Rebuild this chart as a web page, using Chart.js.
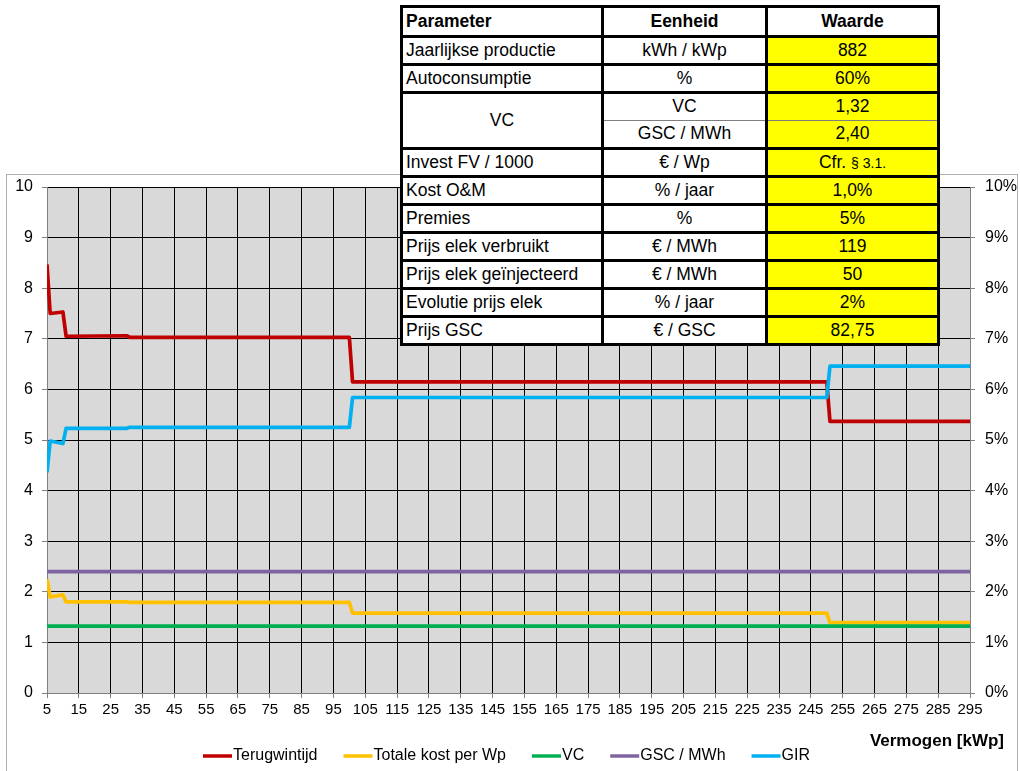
<!DOCTYPE html>
<html>
<head>
<meta charset="utf-8">
<title>Terugwintijd en GIR in functie van vermogen</title>
<script src="https://cdn.jsdelivr.net/npm/chart.js@4.4.1/dist/chart.umd.min.js"></script>
<style>
  html, body { margin: 0; padding: 0; background: #fff; }
  #wrap { position: relative; width: 1020px; height: 771px; overflow: hidden; }
  #wrap canvas { position: absolute; left: 0; top: 0; }
  #params {
    position: absolute; left: 400px; top: 5px; width: 537px;
    border-collapse: collapse; table-layout: fixed;
    font-family: 'Liberation Sans', Arial, sans-serif; font-size: 17.5px; color: #000;
    background: #fff;
  }
  #params td { border: 3px solid #000; padding: 0 3px; white-space: nowrap; line-height: 1; }
  #params tr { height: 28px; }
  #params tr.head { height: 30px; }
  #params tr.head td { font-weight: bold; }
  #params td.c { text-align: center; }
  #params td.v { text-align: center; background: #ffff00; }
  #params td.split-top { border-bottom: 1px solid #7f7f7f; }
  #params td.split-bot { border-top: 1px solid #7f7f7f; }
  #params span.small { font-size: 14px; }
</style>
</head>
<body>
<div id="wrap">
  <canvas id="chart" width="1020" height="771"></canvas>
  <table id="params"></table>
</div>
<script>
// Vermogen (kWp) at the points where the curves change
const kWp = [5, 6, 10, 11, 30, 31, 100, 101, 250, 251, 295];

// Left axis series
const terugwintijd = [8.47, 7.50, 7.53, 7.05, 7.06, 7.03, 7.03, 6.15, 6.15, 5.37, 5.37];
const totaleKostPerWp = [2.25, 1.90, 1.94, 1.80, 1.80, 1.79, 1.79, 1.58, 1.58, 1.39, 1.39];
const vc = [1.32, 1.32, 1.32, 1.32, 1.32, 1.32, 1.32, 1.32, 1.32, 1.32, 1.32];
const gscPerMWh = [2.40, 2.40, 2.40, 2.40, 2.40, 2.40, 2.40, 2.40, 2.40, 2.40, 2.40];

// Right axis series (GIR, in %)
const gir = [4.36, 4.98, 4.93, 5.23, 5.23, 5.25, 5.25, 5.84, 5.84, 6.46, 6.46];

// Tick labels
const xTicks = [5, 15, 25, 35, 45, 55, 65, 75, 85, 95, 105, 115, 125, 135, 145, 155, 165, 175, 185, 195, 205, 215, 225, 235, 245, 255, 265, 275, 285, 295];
const yTicks = [0, 1, 2, 3, 4, 5, 6, 7, 8, 9, 10];
const y2Ticks = [0, 1, 2, 3, 4, 5, 6, 7, 8, 9, 10];
const xTitle = 'Vermogen [kWp]';

// Parameter table
const tableHeader = ['Parameter', 'Eenheid', 'Waarde'];
const tableParams = ['Jaarlijkse productie', 'Autoconsumptie', 'VC', 'VC', 'Invest FV / 1000', 'Kost O&M', 'Premies', 'Prijs elek verbruikt', 'Prijs elek geïnjecteerd', 'Evolutie prijs elek', 'Prijs GSC'];
const tableUnits = ['kWh / kWp', '%', 'VC', 'GSC / MWh', '€ / Wp', '% / jaar', '%', '€ / MWh', '€ / MWh', '% / jaar', '€ / GSC'];
const tableValues = ['882', '60%', '1,32', '2,40', 'Cfr. § 3.1.', '1,0%', '5%', '119', '50', '2%', '82,75'];

// Build the parameter table
(function buildTable() {
  const t = document.getElementById('params');
  const esc = s => s.replace(/&/g, '&amp;').replace(/</g, '&lt;');
  let html = '<colgroup><col style="width:201px"><col style="width:164px"><col style="width:172px"></colgroup>';
  html += '<tr class="head"><td>' + tableHeader[0] + '</td><td class="c">' + tableHeader[1] + '</td><td class="c">' + tableHeader[2] + '</td></tr>';
  for (let i = 0; i < tableParams.length; i++) {
    const merged = i > 0 && tableParams[i] === tableParams[i - 1];
    const mergeNext = i + 1 < tableParams.length && tableParams[i + 1] === tableParams[i];
    let row = '<tr>';
    if (!merged) {
      row += mergeNext
        ? '<td class="c" rowspan="2">' + esc(tableParams[i]) + '</td>'
        : '<td>' + esc(tableParams[i]) + '</td>';
    }
    const split = mergeNext ? ' split-top' : (merged ? ' split-bot' : '');
    let val = esc(tableValues[i]);
    // the paragraph reference is set in a smaller size
    const sec = val.indexOf('§');
    if (sec >= 0) val = val.slice(0, sec) + '<span class="small">' + val.slice(sec) + '</span>';
    row += '<td class="c' + split + '">' + esc(tableUnits[i]) + '</td>';
    row += '<td class="v' + split + '">' + val + '</td>';
    row += '</tr>';
    html += row;
  }
  t.innerHTML = html;
})();

const FONT = "'Liberation Sans', Arial, sans-serif";
const toPoints = ys => kWp.map((x, i) => ({ x: x, y: ys[i] }));

// Page background, outer frame and grey plot area
const framePlugin = {
  id: 'frame',
  beforeDraw(chart) {
    const { ctx, chartArea: a } = chart;
    ctx.save();
    ctx.fillStyle = '#ffffff';
    ctx.fillRect(0, 0, chart.width, chart.height);
    ctx.strokeStyle = '#b0b0b0';
    ctx.lineWidth = 1;
    ctx.strokeRect(6.5, 174.5, 1011, 620);
    ctx.fillStyle = '#d9d9d9';
    ctx.fillRect(a.left, a.top, a.right - a.left, a.bottom - a.top);
    ctx.restore();
  }
};

// Legend row and axis title along the bottom
const bottomPlugin = {
  id: 'bottomLegend',
  afterDraw(chart) {
    const ctx = chart.ctx;
    ctx.save();
    ctx.font = '16px ' + FONT;
    ctx.textBaseline = 'middle';
    ctx.textAlign = 'left';
    let x = 203;
    const y = 756;
    chart.data.datasets.forEach(ds => {
      ctx.strokeStyle = ds.borderColor;
      ctx.lineWidth = 3.5;
      ctx.beginPath();
      ctx.moveTo(x, y);
      ctx.lineTo(x + 29, y);
      ctx.stroke();
      x += 30;
      ctx.fillStyle = '#000';
      ctx.fillText(ds.label, x, y);
      x += ctx.measureText(ds.label).width + 26;
    });
    ctx.font = 'bold 17px ' + FONT;
    ctx.textAlign = 'right';
    ctx.fillStyle = '#000';
    ctx.fillText(xTitle, 1004, 741);
    ctx.restore();
  }
};

const lineStyle = { pointRadius: 0, borderWidth: 3.7, tension: 0, borderJoinStyle: 'round', fill: false };

new Chart(document.getElementById('chart'), {
  type: 'line',
  data: {
    datasets: [
      Object.assign({ label: 'Terugwintijd', data: toPoints(terugwintijd), borderColor: '#c00000', yAxisID: 'y', order: 4 }, lineStyle),
      Object.assign({ label: 'Totale kost per Wp', data: toPoints(totaleKostPerWp), borderColor: '#ffc000', yAxisID: 'y', order: 3 }, lineStyle),
      Object.assign({ label: 'VC', data: toPoints(vc), borderColor: '#00b050', yAxisID: 'y', order: 2 }, lineStyle),
      Object.assign({ label: 'GSC / MWh', data: toPoints(gscPerMWh), borderColor: '#8064a2', yAxisID: 'y', order: 1 }, lineStyle),
      Object.assign({ label: 'GIR', data: toPoints(gir), borderColor: '#00b0f0', yAxisID: 'y2', order: 0 }, lineStyle)
    ]
  },
  options: {
    responsive: false,
    animation: false,
    devicePixelRatio: 1,
    layout: { padding: { left: 7, right: 0, top: 187, bottom: 38 } },
    plugins: { legend: { display: false }, tooltip: { enabled: false } },
    scales: {
      x: {
        type: 'linear', min: 5, max: 295,
        afterBuildTicks: s => { s.ticks = xTicks.map(v => ({ value: v })); },
        afterFit: s => { s.height = 40; },
        ticks: { autoSkip: false, maxRotation: 0, minRotation: 0, padding: 3, color: '#000', font: { family: FONT, size: 15 } },
        grid: { color: '#000', lineWidth: 1, tickLength: 5, tickColor: '#808080' },
        border: { color: '#808080', width: 1 }
      },
      y: {
        position: 'left', min: 0, max: 10,
        afterBuildTicks: s => { s.ticks = yTicks.map(v => ({ value: v })); },
        afterFit: s => { s.width = 40; },
        ticks: { padding: 9, color: '#000', font: { family: FONT, size: 16 } },
        grid: { color: '#000', lineWidth: 1, tickLength: 5, tickColor: '#808080' },
        border: { color: '#808080', width: 1 }
      },
      y2: {
        position: 'right', min: 0, max: 10,
        afterBuildTicks: s => { s.ticks = y2Ticks.map(v => ({ value: v })); },
        afterFit: s => { s.width = 50; },
        ticks: { padding: 10, color: '#000', font: { family: FONT, size: 16 }, callback: v => v + '%' },
        grid: { drawOnChartArea: false, tickLength: 5, tickColor: '#808080' },
        border: { color: '#808080', width: 1 }
      }
    }
  },
  plugins: [framePlugin, bottomPlugin]
});
</script>
</body>
</html>
